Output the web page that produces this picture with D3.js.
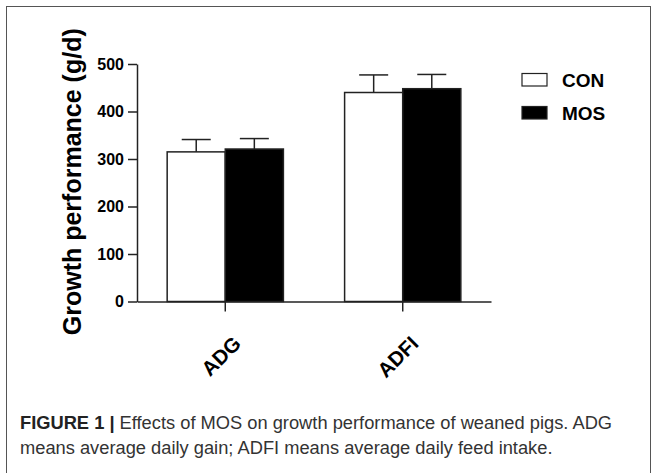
<!DOCTYPE html>
<html>
<head>
<meta charset="utf-8">
<script src="https://cdn.jsdelivr.net/npm/d3@7"></script>
<style>
  html, body { margin: 0; padding: 0; background: #fff; }
  svg { display: block; }
</style>
</head>
<body>
<svg id="chart" width="657" height="473"></svg>
<script>
// data
const groups = ["ADG", "ADFI"];
const treatments = ["CON", "MOS"];
const conMeans = [315, 440];
const mosMeans = [321, 448];
const conSD = [26, 37];
const mosSD = [22, 30];
const yTicks = [0, 100, 200, 300, 400, 500];

const svg = d3.select("#chart");
const W = 657, H = 473;

// frame
svg.append("rect")
    .attr("x", 6.5).attr("y", 6.5)
    .attr("width", 644).attr("height", H)
    .attr("fill", "none")
    .attr("stroke", "#555")
    .attr("stroke-width", 1);

const margin = { left: 137, top: 64 },
    plotW = 354, plotH = 237.5;

const chart = svg.append("g")
    .attr("transform", `translate(${margin.left},${margin.top})`);

const x0 = d3.scaleBand().domain(groups).range([0, plotW])
    .paddingInner(0.345).paddingOuter(0.17);
const x1 = d3.scaleBand().domain(treatments).range([0, x0.bandwidth()]);
const y = d3.scaleLinear().domain([0, 500]).range([plotH, 0]);

const fill = d3.scaleOrdinal().domain(treatments).range(["#fff", "#000"]);

const rows = groups.map((g, i) => ({
    group: g,
    values: [
        { key: "CON", mean: conMeans[i], sd: conSD[i] },
        { key: "MOS", mean: mosMeans[i], sd: mosSD[i] }
    ]
}));

// error bars (upper only), drawn under bars
const gGroups = chart.selectAll(".grp")
    .data(rows)
    .join("g")
    .attr("class", "grp")
    .attr("transform", d => `translate(${x0(d.group)},0)`);

const err = gGroups.selectAll(".err")
    .data(d => d.values)
    .join("g")
    .attr("class", "err")
    .attr("stroke", "#222")
    .attr("stroke-width", 1.5);
err.append("line")
    .attr("x1", d => x1(d.key) + x1.bandwidth() / 2)
    .attr("x2", d => x1(d.key) + x1.bandwidth() / 2)
    .attr("y1", d => y(d.mean))
    .attr("y2", d => y(d.mean + d.sd));
err.append("line")
    .attr("x1", d => x1(d.key) + x1.bandwidth() / 2 - 14.5)
    .attr("x2", d => x1(d.key) + x1.bandwidth() / 2 + 14.5)
    .attr("y1", d => y(d.mean + d.sd))
    .attr("y2", d => y(d.mean + d.sd));

gGroups.selectAll("rect")
    .data(d => d.values)
    .join("rect")
    .attr("x", d => x1(d.key))
    .attr("y", d => y(d.mean))
    .attr("width", x1.bandwidth())
    .attr("height", d => y(0) - y(d.mean))
    .attr("fill", d => fill(d.key))
    .attr("stroke", "#222")
    .attr("stroke-width", 1.5);

// axes
const yAxis = chart.append("g")
    .call(d3.axisLeft(y).tickValues(yTicks).tickSize(9).tickSizeOuter(0).tickPadding(4));
yAxis.selectAll("path, line").attr("stroke", "#222").attr("stroke-width", 1.5);
yAxis.selectAll("text")
    .attr("fill", "#000")
    .style("font", "bold 16px 'Liberation Sans', Arial, sans-serif");

const xAxis = chart.append("g")
    .attr("transform", `translate(0,${plotH})`)
    .call(d3.axisBottom(x0).tickSize(10).tickSizeOuter(0));
xAxis.selectAll("path, line").attr("stroke", "#222").attr("stroke-width", 1.5);
xAxis.selectAll("text")
    .attr("fill", "#000")
    .attr("text-anchor", "end")
    .attr("y", 0).attr("dy", 0)
    .attr("transform", "translate(17,43.5) rotate(-45)")
    .style("font", "bold 20.5px 'Liberation Sans', Arial, sans-serif");

// y title
svg.append("text")
    .attr("transform", `translate(81,${margin.top + plotH / 2 - 1}) rotate(-90)`)
    .attr("text-anchor", "middle")
    .style("font", "bold 25px 'Liberation Sans', Arial, sans-serif")
    .text("Growth performance (g/d)");

// legend
const legend = svg.append("g").attr("transform", "translate(522,73.5)");
const li = legend.selectAll("g")
    .data(treatments)
    .join("g")
    .attr("transform", (d, i) => `translate(0,${i * 33})`);
li.append("rect")
    .attr("width", 25).attr("height", 12.5)
    .attr("fill", d => fill(d))
    .attr("stroke", "#222")
    .attr("stroke-width", 1.2);
li.append("text")
    .attr("x", 40).attr("y", 13.5)
    .style("font", "bold 19px 'Liberation Sans', Arial, sans-serif")
    .text(d => d);

// caption
const cap = svg.append("text")
    .attr("x", 20)
    .style("font", "18.3px 'Liberation Sans', Arial, sans-serif")
    .attr("fill", "#333");
const l1 = cap.append("tspan").attr("x", 20).attr("y", 429);
l1.append("tspan").style("font-weight", "bold").attr("fill", "#222").text("FIGURE 1 | ");
l1.append("tspan").text("Effects of MOS on growth performance of weaned pigs. ADG");
cap.append("tspan").attr("x", 20).attr("y", 454)
    .text("means average daily gain; ADFI means average daily feed intake.");
</script>
</body>
</html>
